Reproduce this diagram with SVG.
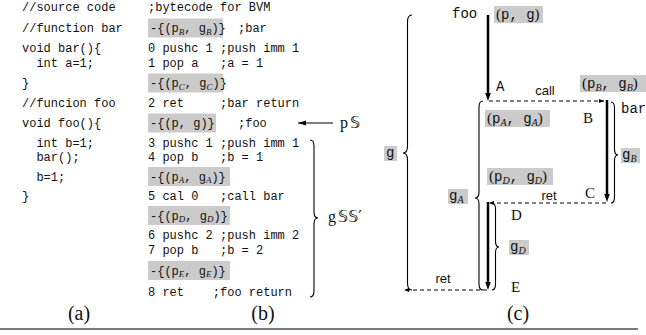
<svg xmlns="http://www.w3.org/2000/svg" width="646" height="335" viewBox="0 0 646 335">
  <style>
    .mono { font-family: "Liberation Mono", "DejaVu Sans Mono", monospace; font-size: 12px; fill: #111; }
    .mono14 { font-family: "Liberation Mono", "DejaVu Sans Mono", monospace; font-size: 14px; fill: #111; }
    .serif { font-family: "Liberation Serif", "DejaVu Serif", serif; fill: #111; }
    .dbl { font-family: "DejaVu Sans", "DejaVu Serif", sans-serif; font-size: 16px; }
    .sans { font-family: "Liberation Sans", Arial, sans-serif; font-size: 13px; fill: #111; }
    .sub { font-family: "Liberation Serif", "DejaVu Serif", serif; font-style: italic; font-size: 9px; }
    .sub10 { font-family: "Liberation Serif", "DejaVu Serif", serif; font-style: italic; font-size: 10px; }
    .hl { fill: #cbcbcb; }
    .thick { stroke: #000; stroke-width: 2.5; fill: none; }
    .thin { stroke: #000; stroke-width: 1.2; fill: none; }
    .dash { stroke: #000; stroke-width: 1.2; stroke-dasharray: 4 3; fill: none; }
    .brace { stroke: #000; stroke-width: 1.1; fill: none; }
    .cap { font-family: "Liberation Serif", "Times New Roman", serif; font-size: 20px; fill: #111; }
  </style>
  <defs>
    <marker id="bighead" viewBox="0 0 8 8" refX="3" refY="4" markerWidth="8" markerHeight="8" markerUnits="userSpaceOnUse" orient="auto"><path d="M0,1.2 L8,4 L0,6.8 z" fill="#000"/></marker>
    <marker id="head" viewBox="0 0 8 8" refX="8" refY="4" markerWidth="8" markerHeight="8" markerUnits="userSpaceOnUse" orient="auto"><path d="M0,1.5 L8,4 L0,6.5 z" fill="#000"/></marker>
    <marker id="tip" viewBox="0 0 6 6" refX="6" refY="3" markerWidth="5" markerHeight="5" markerUnits="userSpaceOnUse" orient="auto"><path d="M0,0.6 L6,3 L0,5.4 z" fill="#000"/></marker>
  </defs>

  <!-- (a) source code; runs of spaces are written as no-break spaces so the columns keep their width -->
  <g id="source-code" class="mono">
    <text x="22" y="11">//source code</text>
    <text x="22" y="32">//function bar</text>
    <text x="22" y="52">void bar(){</text>
    <text x="22" y="67">&#160;&#160;int a=1;</text>
    <text x="22" y="87">}</text>
    <text x="22" y="107">//funcion foo</text>
    <text x="22" y="127">void foo(){</text>
    <text x="22" y="147">&#160;&#160;int b=1;</text>
    <text x="22" y="161">&#160;&#160;bar();</text>
    <text x="22" y="180.5">&#160;&#160;b=1;</text>
    <text x="22" y="200">}</text>
  </g>

  <!-- (b) bytecode with annotated guards -->
  <g id="bytecode" class="mono">
    <text x="148" y="11">;bytecode for BVM</text>
    <text x="148" y="52">0 pushc 1 ;push imm 1</text>
    <text x="148" y="67">1 pop a&#160;&#160;&#160;;a = 1</text>
    <text x="148" y="107">2 ret&#160;&#160;&#160;&#160;&#160;;bar return</text>
    <text x="148" y="147">3 pushc 1 ;push imm 1</text>
    <text x="148" y="161">4 pop b&#160;&#160;&#160;;b = 1</text>
    <text x="148" y="200">5 cal 0&#160;&#160;&#160;;call bar</text>
    <text x="148" y="239">6 pushc 2 ;push imm 2</text>
    <text x="148" y="254">7 pop b&#160;&#160;&#160;;b = 2</text>
    <text x="148" y="296">8 ret&#160;&#160;&#160;&#160;;foo return</text>
  </g>

  <g id="guard-B">
    <rect class="hl" x="148" y="18.5" width="75" height="19"/>
    <text class="mono" x="150" y="32">-{(p<tspan class="sub" dy="2.5">B</tspan><tspan dy="-2.5">, g</tspan><tspan class="sub" dy="2.5">B</tspan><tspan dy="-2.5">)}</tspan></text>
    <text class="mono" x="238" y="32">;bar</text>
  </g>
  <g id="guard-C">
    <rect class="hl" x="148" y="73.5" width="75" height="19"/>
    <text class="mono" x="150" y="87">-{(p<tspan class="sub" dy="2.5">C</tspan><tspan dy="-2.5">, g</tspan><tspan class="sub" dy="2.5">C</tspan><tspan dy="-2.5">)}</tspan></text>
  </g>
  <g id="guard-foo">
    <rect class="hl" x="148" y="113.5" width="68" height="19"/>
    <text class="mono" x="150" y="127">-{(p, g)}</text>
    <text class="mono" x="238" y="127">;foo</text>
  </g>
  <g id="guard-A">
    <rect class="hl" x="148" y="167" width="82" height="19"/>
    <text class="mono" x="150" y="180.5">-{(p<tspan class="sub" dy="2.5">A</tspan><tspan dy="-2.5">, g</tspan><tspan class="sub" dy="2.5">A</tspan><tspan dy="-2.5">)}</tspan></text>
  </g>
  <g id="guard-D">
    <rect class="hl" x="148" y="206" width="82" height="19"/>
    <text class="mono" x="150" y="219.5">-{(p<tspan class="sub" dy="2.5">D</tspan><tspan dy="-2.5">, g</tspan><tspan class="sub" dy="2.5">D</tspan><tspan dy="-2.5">)}</tspan></text>
  </g>
  <g id="guard-E">
    <rect class="hl" x="148" y="261" width="82" height="19"/>
    <text class="mono" x="150" y="274.5">-{(p<tspan class="sub" dy="2.5">E</tspan><tspan dy="-2.5">, g</tspan><tspan class="sub" dy="2.5">E</tspan><tspan dy="-2.5">)}</tspan></text>
  </g>

  <g id="label-pS">
    <text class="serif" x="340" y="128" font-size="16">p<tspan class="dbl" dx="2">𝕊</tspan></text>
  </g>
  <g id="label-gSS">
    <path class="brace" d="M310,140 Q314,140 314,146 L314,212 Q314,218 318,218 Q314,218 314,224 L314,291 Q314,297 310,297"/>
    <text class="serif" x="328" y="222" font-size="16">g<tspan class="dbl" dx="2">𝕊𝕊′</tspan></text>
  </g>

  <!-- (c) control flow between foo and bar -->
  <g id="node-foo">
    <text class="mono14" x="452" y="18">foo</text>
    <rect class="hl" x="494" y="6" width="49" height="17"/>
    <text class="serif" x="496" y="19" font-size="15">(<tspan class="mono14">p, g</tspan>)</text>
  </g>
  <g id="node-A">
    <text class="mono14" x="496" y="91">A</text>
    <rect class="hl" x="485" y="110" width="65" height="17"/>
    <text class="serif" x="487" y="123" font-size="15">(<tspan class="mono14">p</tspan><tspan class="sub10" dy="2.5">A</tspan><tspan dy="-2.5" class="mono14">, g</tspan><tspan class="sub10" dy="2.5">A</tspan><tspan dy="-2.5">)</tspan></text>
  </g>
  <g id="node-B">
    <rect class="hl" x="580" y="75" width="66" height="17"/>
    <text class="serif" x="582" y="88" font-size="15">(<tspan class="mono14">p</tspan><tspan class="sub10" dy="2.5">B</tspan><tspan dy="-2.5" class="mono14">, g</tspan><tspan class="sub10" dy="2.5">B</tspan><tspan dy="-2.5">)</tspan></text>
    <text class="serif" x="583" y="123" font-size="15">B</text>
    <text class="mono14" x="621" y="113">bar</text>
  </g>
  <g id="node-C">
    <text class="serif" x="585" y="198" font-size="15">C</text>
  </g>
  <g id="node-D">
    <rect class="hl" x="487" y="168" width="66" height="17"/>
    <text class="serif" x="489" y="181" font-size="15">(<tspan class="mono14">p</tspan><tspan class="sub10" dy="2.5">D</tspan><tspan dy="-2.5" class="mono14">, g</tspan><tspan class="sub10" dy="2.5">D</tspan><tspan dy="-2.5">)</tspan></text>
    <text class="serif" x="511" y="220" font-size="15">D</text>
  </g>
  <g id="node-E">
    <text class="serif" x="511" y="292" font-size="15">E</text>
  </g>

  <g id="guards-c">
    <path class="brace" d="M412,15 Q407.5,15 407.5,22 L407.5,146 Q407.5,153 403,153 Q407.5,153 407.5,160 L407.5,283 Q407.5,290 412,290"/>
    <rect class="hl" x="384" y="146" width="13" height="15"/>
    <text class="mono14" x="386" y="157">g</text>

    <path class="brace" d="M483,101 Q479,101 479,107 L479,192 Q479,198 475,198 Q479,198 479,204 L479,284 Q479,290 483,290"/>
    <rect class="hl" x="448" y="189" width="20" height="15"/>
    <text class="mono14" x="449" y="200">g<tspan class="sub10" dy="2.5">A</tspan></text>

    <path class="brace" d="M611,102 Q614.5,102 614.5,108 L614.5,149 Q614.5,155 618,155 Q614.5,155 614.5,161 L614.5,197 Q614.5,203 611,203"/>
    <rect class="hl" x="621" y="148" width="19" height="15"/>
    <text class="mono14" x="622" y="159">g<tspan class="sub10" dy="2.5">B</tspan></text>

    <path class="brace" d="M492,203 Q495.5,203 495.5,209 L495.5,241 Q495.5,247 499,247 Q495.5,247 495.5,253 L495.5,284 Q495.5,290 492,290"/>
    <rect class="hl" x="509" y="240" width="20" height="15"/>
    <text class="mono14" x="510" y="251">g<tspan class="sub10" dy="2.5">D</tspan></text>
  </g>

  <!-- connectors -->
  <g id="connectors">
    <line class="thin" x1="333" y1="123" x2="298" y2="123" marker-end="url(#head)"/>
    <line class="thick" x1="488" y1="15" x2="488" y2="96" marker-end="url(#bighead)"/>
    <line class="dash" x1="489" y1="101" x2="604" y2="101" marker-end="url(#tip)"/>
    <line class="thick" x1="607" y1="100" x2="607" y2="197" marker-end="url(#bighead)"/>
    <line class="dash" x1="606" y1="203" x2="489" y2="203" marker-end="url(#tip)"/>
    <line class="thick" x1="488" y1="202" x2="488" y2="285" marker-end="url(#bighead)"/>
    <line class="dash" x1="487" y1="290" x2="404" y2="290" marker-end="url(#tip)"/>
    <text class="sans" x="545" y="95" text-anchor="middle">call</text>
    <text class="sans" x="549" y="200" text-anchor="middle">ret</text>
    <text class="sans" x="443" y="283" text-anchor="middle">ret</text>
  </g>

  <!-- panel captions and rule -->
  <g id="captions">
    <text class="cap" x="79" y="320" text-anchor="middle">(a)</text>
    <text class="cap" x="263" y="320" text-anchor="middle">(b)</text>
    <text class="cap" x="518" y="320" text-anchor="middle">(c)</text>
    <line x1="0" y1="329" x2="638" y2="329" stroke="#7a7a7a" stroke-width="2.2"/>
  </g>
</svg>
